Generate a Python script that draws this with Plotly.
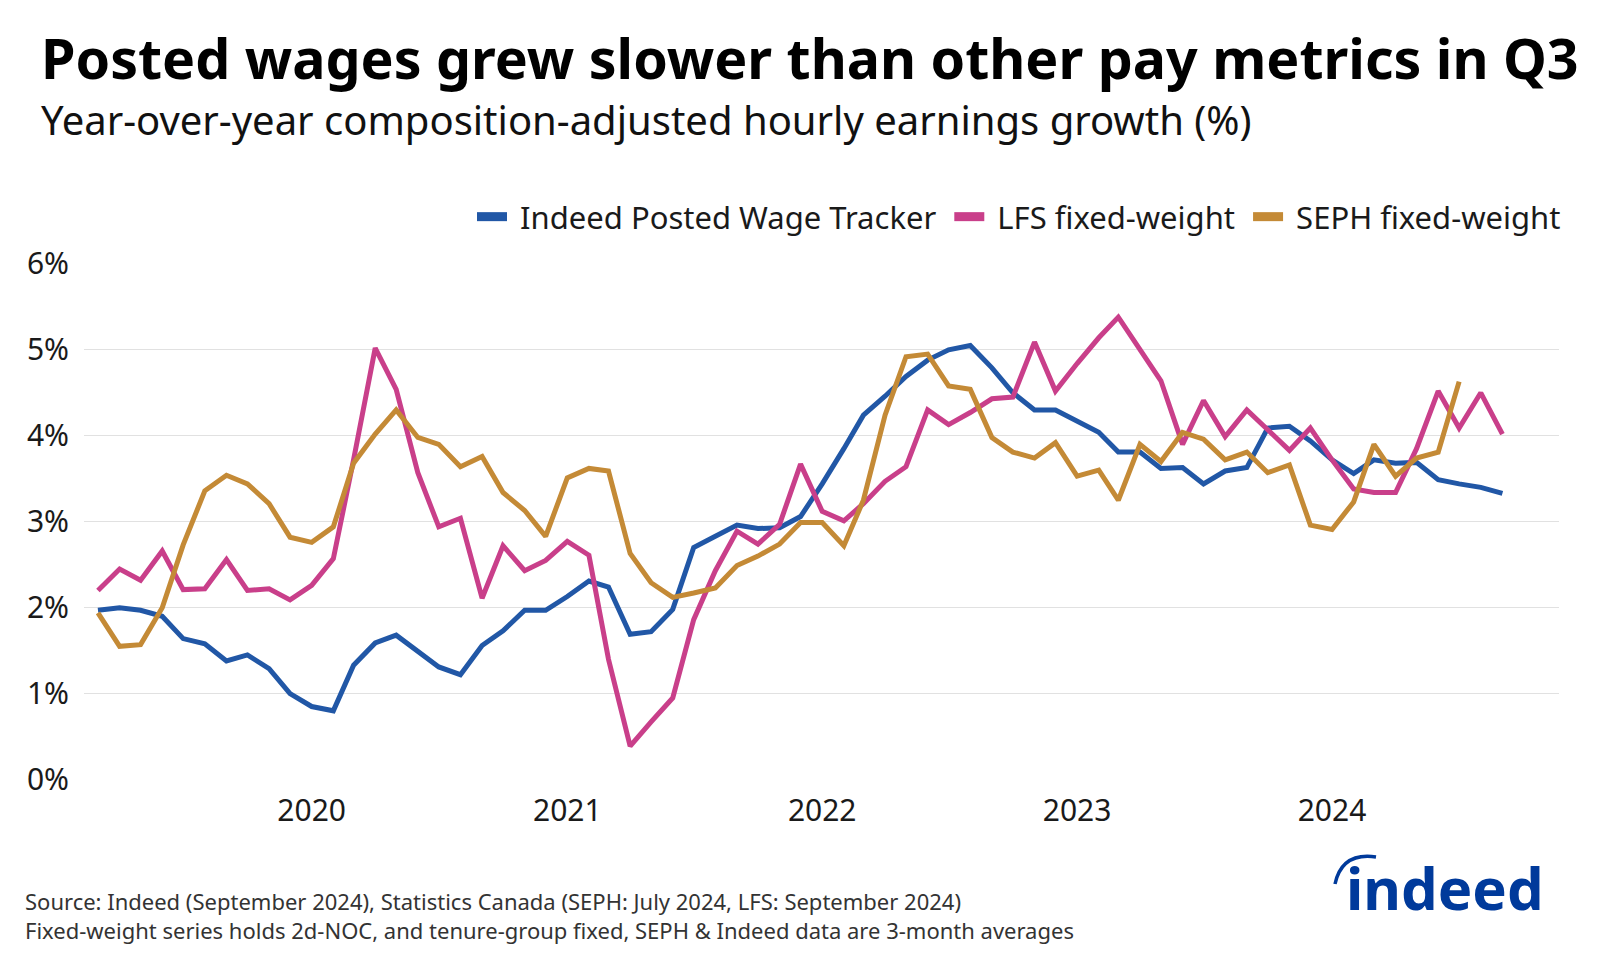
import pandas as pd
import plotly.graph_objects as go

# ---- data (monthly, Mar 2019 onward) ----
start_month = "2019-03-01"

indeed_posted = [1.97, 2.00, 1.97, 1.90, 1.64, 1.58, 1.38, 1.45, 1.29, 1.00,
                 0.85, 0.80, 1.33, 1.59, 1.68, 1.49, 1.31, 1.22, 1.56, 1.73,
                 1.97, 1.97, 2.13, 2.31, 2.24, 1.69, 1.72, 1.98, 2.70, 2.83,
                 2.96, 2.92, 2.93, 3.06, 3.44, 3.85, 4.24, 4.46, 4.69, 4.88,
                 5.00, 5.05, 4.79, 4.50, 4.30, 4.30, 4.17, 4.04, 3.81, 3.81,
                 3.62, 3.63, 3.44, 3.59, 3.63, 4.09, 4.11, 3.94, 3.72, 3.56,
                 3.72, 3.68, 3.69, 3.49, 3.44, 3.40, 3.33]

lfs_fixed = [2.20, 2.45, 2.32, 2.66, 2.21, 2.22, 2.56, 2.20, 2.22, 2.09,
             2.26, 2.57, 3.72, 5.02, 4.54, 3.57, 2.94, 3.04, 2.11, 2.72,
             2.43, 2.55, 2.77, 2.61, 1.40, 0.39, 0.67, 0.95, 1.86, 2.43,
             2.89, 2.74, 2.97, 3.67, 3.12, 3.01, 3.21, 3.47, 3.64, 4.30,
             4.13, 4.27, 4.43, 4.45, 5.09, 4.52, 4.84, 5.14, 5.38, 5.00,
             4.64, 3.90, 4.41, 3.99, 4.30, 4.07, 3.83, 4.09, 3.72, 3.38,
             3.34, 3.34, 3.85, 4.52, 4.09, 4.50, 4.02]

seph_fixed = [1.94, 1.55, 1.57, 2.00, 2.73, 3.36, 3.54, 3.44, 3.21, 2.82,
              2.76, 2.94, 3.68, 4.02, 4.30, 3.98, 3.90, 3.64, 3.76, 3.34,
              3.13, 2.83, 3.51, 3.62, 3.59, 2.63, 2.29, 2.12, 2.17, 2.23,
              2.49, 2.60, 2.74, 2.99, 2.99, 2.72, 3.25, 4.24, 4.92, 4.95,
              4.58, 4.54, 3.98, 3.81, 3.74, 3.92, 3.53, 3.60, 3.25, 3.90,
              3.70, 4.04, 3.96, 3.72, 3.81, 3.57, 3.66, 2.96, 2.91, 3.23,
              3.90, 3.53, 3.74, 3.81, 4.63]

series_names = ["Indeed Posted Wage Tracker", "LFS fixed-weight", "SEPH fixed-weight"]
series_colors = ["#2157a6", "#c93f8a", "#c48a36"]

title_text = "Posted wages grew slower than other pay metrics in Q3"
subtitle_text = "Year-over-year composition-adjusted hourly earnings growth (%)"
source_lines = ["Source: Indeed (September 2024), Statistics Canada (SEPH: July 2024, LFS: September 2024)",
                "Fixed-weight series holds 2d-NOC, and tenure-group fixed, SEPH &amp; Indeed data are 3-month averages"]

# ---- layout geometry (screen pixels; page body has an 8px margin) ----
W, H = 1600, 960
OFF = 8
PL, PR, PT, PB = 84, 1559, 263, 780
FONT = "Noto Sans"
NB = "\u00a0"


def px(x):
    return (x - PL) / (PR - PL)


def py(y):
    return (PB - y) / (PB - PT)


fig = go.Figure()
for name, vals, col in zip(series_names, [indeed_posted, lfs_fixed, seph_fixed], series_colors):
    dates = pd.date_range(start_month, periods=len(vals), freq="MS")
    fig.add_trace(go.Scatter(x=dates, y=vals, mode="lines", name=name, showlegend=False,
                             line=dict(color=col, width=5)))
# legend keys (thicker swatches, no data)
for name, col in zip(series_names, series_colors):
    fig.add_trace(go.Scatter(x=[None], y=[None], mode="lines", name=NB + name + NB,
                             line=dict(color=col, width=9), hoverinfo="skip"))

fig.update_layout(
    width=W, height=H,
    margin=dict(l=PL - OFF, r=W - (PR - OFF), t=PT - OFF, b=H - (PB - OFF), pad=0),
    paper_bgcolor="white", plot_bgcolor="white",
    font=dict(family=FONT, color="#1a1a1a", size=30),
    showlegend=True,
    legend=dict(orientation="h", x=px(1574), xanchor="right", y=py(217), yanchor="middle",
                font=dict(size=31, color="#1a1a1a"), itemwidth=30,
                bgcolor="rgba(0,0,0,0)", traceorder="normal"),
    xaxis=dict(type="date", range=["2019-02-09", "2024-11-21"],
               tick0="2020-01-01", dtick="M12", tickformat="%Y",
               showgrid=False, zeroline=False, showline=False, ticks="",
               tickfont=dict(size=30, color="#1a1a1a"), ticklabelstandoff=10),
    yaxis=dict(range=[-0.005, 6.01], dtick=1, tick0=0, ticksuffix="%", showgrid=True,
               gridcolor="#e1e1e1", gridwidth=1, zeroline=False, showline=False,
               ticks="", tickfont=dict(size=30, color="#1a1a1a"), ticklabelstandoff=14),
)

annotations = [
    dict(text=f"<b>{title_text}</b>", x=px(39), y=py(57), xanchor="left", yanchor="middle",
         font=dict(size=55.5, color="#000000", family=FONT)),
    dict(text=subtitle_text, x=px(39), y=py(119), xanchor="left", yanchor="middle",
         font=dict(size=40, color="#111111", family=FONT)),
    dict(text="<br>".join(source_lines), x=px(23), y=py(915), xanchor="left", yanchor="middle",
         align="left", font=dict(size=22, color="#333333", family=FONT)),
    dict(text="<b>indeed</b>", x=px(1546), y=py(887), xanchor="right", yanchor="middle",
         font=dict(size=58, color="#003a9b", family=FONT)),
]
for a in annotations:
    a.update(xref="paper", yref="paper", showarrow=False)
fig.update_layout(annotations=annotations)

# arc above the logo "i"
x0, y0 = px(1335), py(884)
xc, yc = px(1342), py(852)
x1, y1 = px(1376), py(857)
fig.add_shape(type="path", xref="paper", yref="paper",
              path=f"M {x0},{y0} Q {xc},{yc} {x1},{y1}",
              line=dict(color="#003a9b", width=3.5))

fig.write_html("out.html")
